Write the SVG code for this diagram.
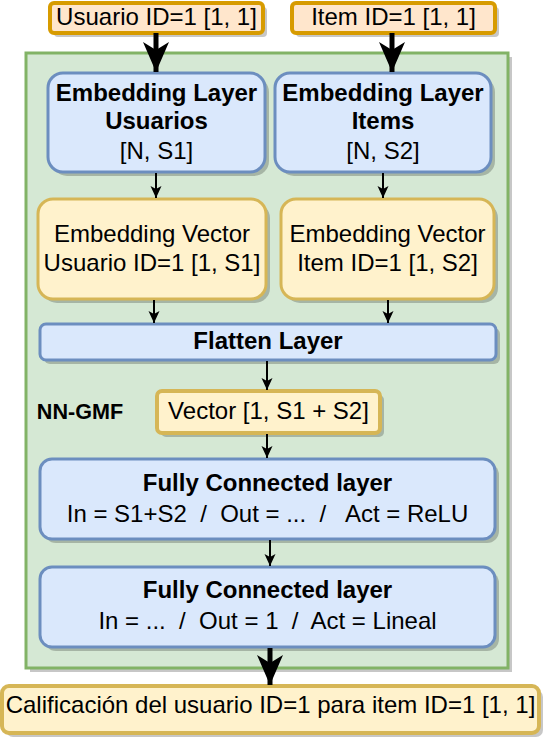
<svg xmlns="http://www.w3.org/2000/svg" width="546" height="738" viewBox="0 0 546 738">
<defs>
<marker id="big" markerUnits="userSpaceOnUse" markerWidth="32" markerHeight="28" refX="30" refY="13" orient="auto"><path d="M0,0 L30,13 L0,26 L8,13 Z" fill="#000"/></marker>
<marker id="small" markerUnits="userSpaceOnUse" markerWidth="14" markerHeight="12" refX="12" refY="5.5" orient="auto"><path d="M0,0 L12,5.5 L0,11 L3,5.5 Z" fill="#000"/></marker>
</defs>
<style>
.sh{fill:#000;opacity:0.22}
.in{fill:#ffe6cc;stroke:#d79b00;stroke-width:4}
.bl{fill:#dae8fc;stroke:#6c8ebf;stroke-width:3}
.yl{fill:#fff2cc;stroke:#d6b656;stroke-width:3}
.yl4{fill:#fff2cc;stroke:#d6b656;stroke-width:4}
.gr{fill:#d5e8d4;stroke:#82b366;stroke-width:3}
text{font-family:"Liberation Sans",Arial,sans-serif;font-size:24px;fill:#000;text-anchor:middle;dominant-baseline:central;white-space:pre}
.b{font-weight:bold}
.lbl{font-size:21.6px}
.c{stroke:#000;fill:none}
</style>
<g id="container">
<rect class="sh" x="30" y="57" width="482" height="615"/>
<rect class="gr" x="26" y="53" width="482" height="615"/>
<text class="b lbl" x="80" y="411">NN-GMF</text>
</g>
<g id="in-usuario">
<rect class="sh" x="54" y="7" width="213" height="30" rx="4"/>
<rect class="in" x="50" y="3" width="213" height="30" rx="4"/>
<text x="156.5" y="16.5">Usuario ID=1 [1, 1]</text>
</g>
<g id="in-item">
<rect class="sh" x="296" y="7" width="203" height="30" rx="4"/>
<rect class="in" x="292" y="3" width="203" height="30" rx="4"/>
<text x="393.5" y="16.5">Item ID=1 [1, 1]</text>
</g>
<g id="emb-usuarios">
<rect class="sh" x="52" y="77" width="217" height="99" rx="15"/>
<rect class="bl" x="48" y="73" width="217" height="99" rx="15"/>
<text class="b" x="156.5" y="92.5">Embedding Layer</text>
<text class="b" x="156.5" y="120.5">Usuarios</text>
<text x="156.5" y="150.5">[N, S1]</text>
</g>
<g id="emb-items">
<rect class="sh" x="279" y="77" width="216" height="99" rx="15"/>
<rect class="bl" x="275" y="73" width="216" height="99" rx="15"/>
<text class="b" x="383" y="92.5">Embedding Layer</text>
<text class="b" x="383" y="120.5">Items</text>
<text x="383" y="150.5">[N, S2]</text>
</g>
<g id="vec-usuario">
<rect class="sh" x="42" y="203" width="228" height="100" rx="15"/>
<rect class="yl" x="38" y="199" width="228" height="100" rx="15"/>
<text x="152" y="233.5">Embedding Vector</text>
<text x="152" y="262.5">Usuario ID=1 [1, S1]</text>
</g>
<g id="vec-item">
<rect class="sh" x="285" y="203" width="213" height="100" rx="15"/>
<rect class="yl" x="281" y="199" width="213" height="100" rx="15"/>
<text x="387.5" y="233.5">Embedding Vector</text>
<text x="387.5" y="262.5">Item ID=1 [1, S2]</text>
</g>
<g id="flatten">
<rect class="sh" x="44" y="328" width="456" height="36" rx="6"/>
<rect class="bl" x="40" y="324" width="456" height="36" rx="6"/>
<text class="b" x="268" y="340.5">Flatten Layer</text>
</g>
<g id="vector">
<rect class="sh" x="161" y="395" width="223" height="42" rx="5"/>
<rect class="yl4" x="157" y="391" width="223" height="42" rx="5"/>
<text x="268.5" y="410.5">Vector [1, S1 + S2]</text>
</g>
<g id="fc1">
<rect class="sh" x="44" y="463" width="455" height="80" rx="12"/>
<rect class="bl" x="40" y="459" width="455" height="80" rx="12"/>
<text class="b" x="267.5" y="482.5">Fully Connected layer</text>
<text x="267.5" y="513.5">In = S1+S2  /  Out = ...  /   Act = ReLU</text>
</g>
<g id="fc2">
<rect class="sh" x="44" y="571" width="455" height="80" rx="12"/>
<rect class="bl" x="40" y="567" width="455" height="80" rx="12"/>
<text class="b" x="267.5" y="589.5">Fully Connected layer</text>
<text x="267.5" y="620.5">In = ...  /  Out = 1  /  Act = Lineal</text>
</g>
<g id="output">
<rect class="sh" x="6" y="690" width="537" height="47" rx="7"/>
<rect class="yl4" x="2" y="686" width="537" height="47" rx="7"/>
<text x="270.5" y="704.5">Calificación del usuario ID=1 para item ID=1 [1, 1]</text>
</g>
<g id="connectors">
<line class="c" x1="156" y1="33" x2="156" y2="72" stroke-width="5" marker-end="url(#big)"/>
<line class="c" x1="392" y1="33" x2="392" y2="72" stroke-width="5" marker-end="url(#big)"/>
<line class="c" x1="156" y1="173" x2="156" y2="198" stroke-width="2" marker-end="url(#small)"/>
<line class="c" x1="383" y1="173" x2="383" y2="198" stroke-width="2" marker-end="url(#small)"/>
<line class="c" x1="154" y1="300" x2="154" y2="323" stroke-width="2" marker-end="url(#small)"/>
<line class="c" x1="388" y1="300" x2="388" y2="323" stroke-width="2" marker-end="url(#small)"/>
<line class="c" x1="267" y1="361" x2="267" y2="390" stroke-width="2" marker-end="url(#small)"/>
<line class="c" x1="267" y1="434" x2="267" y2="458" stroke-width="2" marker-end="url(#small)"/>
<line class="c" x1="270" y1="540" x2="270" y2="566" stroke-width="2" marker-end="url(#small)"/>
<line class="c" x1="270" y1="648" x2="270" y2="685" stroke-width="5" marker-end="url(#big)"/>
</g>
</svg>
